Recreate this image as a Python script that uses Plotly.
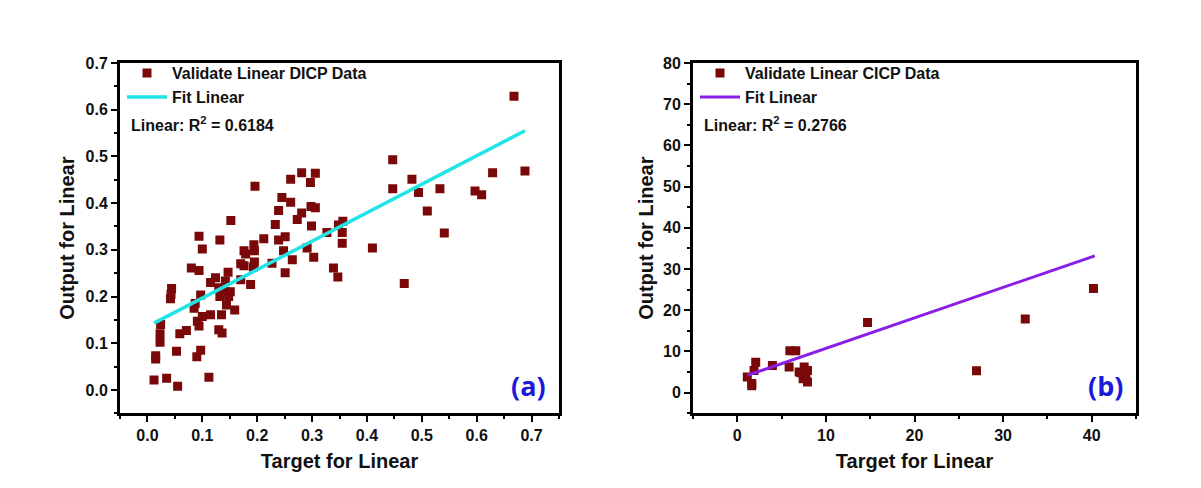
import plotly.graph_objects as go

# ---- Panel (a) data ----
a_target = [0.012,0.035,0.055,0.015,0.015,0.023,0.023,0.024,0.053,0.059,0.071,0.044,0.043,0.042,
            0.080,0.094,0.094,0.100,0.097,0.087,0.085,0.091,0.094,0.100,0.097,0.090,0.112,0.115,
            0.115,0.124,0.132,0.130,0.132,0.135,0.130,0.136,0.142,0.142,0.151,0.148,0.144,0.159,
            0.147,0.152,0.170,0.170,0.176,0.176,0.179,0.188,0.194,0.195,0.195,0.193,0.212,0.227,
            0.233,0.239,0.239,0.251,0.248,0.251,0.264,0.273,0.281,0.291,0.299,0.298,0.303,0.196,
            0.261,0.281,0.306,0.297,0.245,0.261,0.306,0.447,0.447,0.356,0.668,0.482,0.494,0.533,
            0.510,0.541,0.597,0.609,0.629,0.688,0.468,0.410,0.355,0.355,0.327,0.348,0.339,0.347]
a_output = [0.021,0.025,0.008,0.066,0.073,0.102,0.120,0.140,0.083,0.120,0.127,0.217,0.205,0.195,
            0.261,0.256,0.329,0.302,0.203,0.185,0.175,0.147,0.137,0.157,0.085,0.071,0.027,0.161,
            0.230,0.240,0.321,0.219,0.200,0.161,0.129,0.122,0.233,0.210,0.210,0.200,0.182,0.171,
            0.252,0.363,0.236,0.270,0.266,0.298,0.291,0.226,0.311,0.298,0.274,0.263,0.324,0.271,
            0.354,0.321,0.384,0.328,0.298,0.251,0.279,0.365,0.379,0.304,0.351,0.393,0.284,0.436,
            0.451,0.465,0.464,0.444,0.412,0.402,0.390,0.493,0.431,0.361,0.629,0.451,0.423,0.431,
            0.383,0.336,0.426,0.418,0.465,0.469,0.228,0.304,0.337,0.314,0.337,0.353,0.261,0.242]
a_fit_x = [0.012, 0.688]
a_fit_y = [0.143, 0.555]

# ---- Panel (b) data ----
b_target = [1.13,1.63,1.63,1.89,2.08,3.96,5.85,5.93,6.6,6.98,7.55,7.74,7.92,7.92,7.43,7.2,
            14.7,27.0,32.5,40.2]
b_output = [3.8,2.2,1.7,5.4,7.4,6.6,6.2,10.2,10.2,5.0,6.2,4.2,5.4,2.6,3.4,4.8,
            17.0,5.3,17.9,25.3]
b_fit_x = [1.13, 40.35]
b_fit_y = [4.2, 33.2]

a_ticks = [0.0,0.1,0.2,0.3,0.4,0.5,0.6,0.7]
b_xticks = [0,10,20,30,40]
b_yticks = [0,10,20,30,40,50,60,70,80]

MARK = "#7a0808"
FONT = "Liberation Sans, Arial, sans-serif"

fig = go.Figure()
fig.add_trace(go.Scatter(x=a_target, y=a_output, mode="markers", name="Validate Linear DICP Data",
                         marker=dict(symbol="square", size=9, color=MARK, line=dict(width=0)),
                         xaxis="x", yaxis="y", legend="legend"))
fig.add_trace(go.Scatter(x=a_fit_x, y=a_fit_y, mode="lines", name="Fit Linear",
                         line=dict(color="#22e3e6", width=3.5),
                         xaxis="x", yaxis="y", legend="legend"))
fig.add_trace(go.Scatter(x=b_target, y=b_output, mode="markers", name="Validate Linear CICP Data",
                         marker=dict(symbol="square", size=9, color=MARK, line=dict(width=0)),
                         xaxis="x2", yaxis="y2", legend="legend2"))
fig.add_trace(go.Scatter(x=b_fit_x, y=b_fit_y, mode="lines", name="Fit Linear",
                         line=dict(color="#8a1ee6", width=3),
                         xaxis="x2", yaxis="y2", legend="legend2"))

W, H = 1201, 488
def px_x(p): return p / W
def px_y(p): return 1 - p / H

axis_common = dict(showline=True, linecolor="black", linewidth=3, mirror=True,
                   ticks="outside", ticklen=6, tickwidth=2, tickcolor="black",
                   showgrid=False, zeroline=False,
                   tickfont=dict(family=FONT, size=16, color="#111", weight="bold"),
                   title_font=dict(family=FONT, size=20, color="#111", weight="bold"))

fig.update_layout(
    width=W, height=H, margin=dict(l=0, r=0, t=0, b=0),
    paper_bgcolor="white", plot_bgcolor="white",
    font=dict(family=FONT),
    xaxis=dict(domain=[px_x(120), px_x(559)], range=[-0.05, 0.75], anchor="y",
               tickvals=a_ticks, ticktext=[f"{v:.1f}" for v in a_ticks],
               minor=dict(ticks="outside", ticklen=3, tickwidth=2, dtick=0.05, tickcolor="black"),
               title=dict(text="Target for Linear", standoff=11), **axis_common),
    yaxis=dict(domain=[px_y(412), px_y(56)], range=[-0.05, 0.70], anchor="x",
               tickvals=a_ticks, ticktext=[f"{v:.1f}" for v in a_ticks],
               minor=dict(ticks="outside", ticklen=3, tickwidth=2, dtick=0.05, tickcolor="black"),
               title=dict(text="Output for Linear", standoff=6), **axis_common),
    xaxis2=dict(domain=[px_x(693), px_x(1136)], range=[-5, 45], anchor="y2",
                tickvals=b_xticks,
                minor=dict(ticks="outside", ticklen=3, tickwidth=2, dtick=5, tickcolor="black"),
                title=dict(text="Target for Linear", standoff=11), **axis_common),
    yaxis2=dict(domain=[px_y(412), px_y(56)], range=[-5, 80], anchor="x2",
                tickvals=b_yticks,
                minor=dict(ticks="outside", ticklen=3, tickwidth=2, dtick=5, tickcolor="black"),
                title=dict(text="Output for Linear", standoff=4), **axis_common),
    legend=dict(x=px_x(122), y=px_y(49), xanchor="left", yanchor="top",
                bgcolor="rgba(0,0,0,0)", itemwidth=40, tracegroupgap=0,
                font=dict(family=FONT, size=16, color="#111", weight="bold")),
    legend2=dict(x=px_x(695), y=px_y(49), xanchor="left", yanchor="top",
                 bgcolor="rgba(0,0,0,0)", itemwidth=40, tracegroupgap=0,
                 font=dict(family=FONT, size=16, color="#111", weight="bold")),
    showlegend=True,
)

ann_font = dict(family=FONT, size=16, color="#111", weight="bold")
fig.add_annotation(text="Linear: R<sup>2</sup> = 0.6184", xref="x domain", yref="y domain",
                   x=0.02, y=0.825, xanchor="left", yanchor="middle", showarrow=False, font=ann_font)
fig.add_annotation(text="Linear: R<sup>2</sup> = 0.2766", xref="x2 domain", yref="y2 domain",
                   x=0.02, y=0.825, xanchor="left", yanchor="middle", showarrow=False, font=ann_font)
lab_font = dict(family="Open Sans, Lato, sans-serif", size=27, color="#1a1ad8", weight="bold")
fig.add_annotation(text="(a)", xref="x domain", yref="y domain", x=0.975, y=0.02,
                   xanchor="right", yanchor="bottom", showarrow=False, font=lab_font)
fig.add_annotation(text="(b)", xref="x2 domain", yref="y2 domain", x=0.975, y=0.02,
                   xanchor="right", yanchor="bottom", showarrow=False, font=lab_font)

fig.write_html("out.html")
